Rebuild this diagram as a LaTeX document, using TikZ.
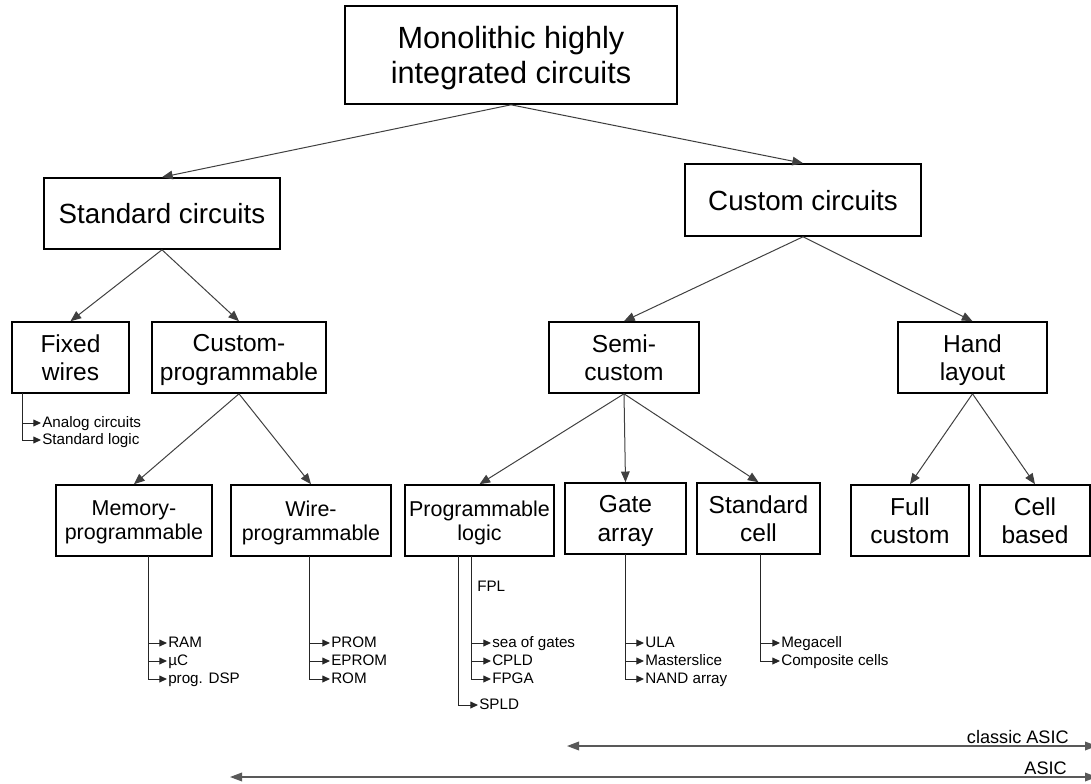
\documentclass[tikz,border=0pt]{standalone}
\usepackage{fontspec}
\setmainfont{Liberation Sans}
\usetikzlibrary{arrows.meta}

\begin{document}
\begin{tikzpicture}[x=0.75pt,y=-0.75pt,
  box/.style={draw=black, line width=1.2pt, align=center, inner sep=0pt, fill=white, text depth=0pt},
  sz/.style 2 args={minimum width=#1*0.75pt, minimum height=#2*0.75pt},
  fTop/.style={font=\fontsize{23}{26.5}\selectfont},
  fOne/.style={font=\fontsize{20.8}{24}\selectfont},
  fTwo/.style={font=\fontsize{18.4}{21.5}\selectfont},
  fThr/.style={font=\fontsize{16.1}{18}\selectfont},
  item/.style={anchor=west, inner sep=0.75pt, font=\fontsize{11.4}{13}\selectfont,
               text height=8.2pt, text depth=1.2pt},
  tree/.style={draw=black!75, line width=0.75pt, -{Triangle[length=8pt,width=6.5pt]}},
  sub/.style={draw=black!85, line width=0.75pt, -{Triangle[length=5.8pt,width=5.2pt]}},
  span/.style={draw=black!65, line width=1pt, {Triangle[length=9pt,width=6.5pt]}-{Triangle[length=9pt,width=6.5pt]}},
  lbl/.style={anchor=base east, inner sep=0pt, font=\fontsize{13.6}{16}\selectfont}
]
\useasboundingbox (0,0) rectangle (1091,784);

% ---- boxes ----
\node[box, sz={332}{98}, fTop] (mono) at (511,55) {Monolithic highly\\integrated circuits};
\node[box, sz={236}{71}, fOne] (std)  at (162,213.5) {Standard circuits};
\node[box, sz={236}{72}, fOne] (cust) at (803,200) {Custom circuits};

\node[box, sz={117}{71}, fTwo] (fw)   at (70.5,357.5) {Fixed\\wires};
\node[box, sz={174}{71}, fTwo] (cp)   at (239,357.5) {Custom-\\programmable};
\node[box, sz={150}{71}, fTwo] (semi) at (624,357.5) {Semi-\\custom};
\node[box, sz={149}{71}, fTwo] (hand) at (972.5,357.5) {Hand\\layout};

\node[box, sz={156}{71}, fThr] (mem)  at (134,520.5) {Memory-\\programmable};
\node[box, sz={160}{71}, fThr] (wire) at (311,520.5) {Wire-\\programmable};
\node[box, sz={149}{71}, fThr] (pl)   at (479.5,520.5) {Programmable\\logic};
\node[box, sz={121}{71}, fTwo] (ga)   at (625.5,518.5) {Gate\\array};
\node[box, sz={123}{71}, fTwo] (sc)   at (758.5,518.5) {Standard\\cell};
\node[box, sz={118}{71}, fTwo] (fc)   at (910,520.5) {Full\\custom};
\node[box, sz={110}{71}, fTwo] (cb)   at (1035,520.5) {Cell\\based};

% ---- hierarchy ----
\draw[tree] (mono.south) -- (std.north);
\draw[tree] (mono.south) -- (cust.north);
\draw[tree] (std.south) -- (fw.north);
\draw[tree] (std.south) -- (cp.north);
\draw[tree] (cust.south) -- (semi.north);
\draw[tree] (cust.south) -- (hand.north);
\draw[tree] (cp.south) -- (mem.north);
\draw[tree] (cp.south) -- (wire.north);
\draw[tree] (semi.south) -- (pl.north);
\draw[tree] (semi.south) -- (ga.north);
\draw[tree] (semi.south) -- (sc.north);
\draw[tree] (hand.south) -- (fc.north);
\draw[tree] (hand.south) -- (cb.north);

% ---- example lists ----
% fixed wires
\coordinate (fwS) at (22,393);
\node[item] (ac) at (41,423) {Analog circuits};
\node[item] (sl) at (41,440) {Standard logic};
\draw[sub] (fwS) |- (ac.west);
\draw[sub] (fwS) |- (sl.west);

% memory-programmable
\coordinate (memS) at (148,556);
\node[item] (ram) at (167,643) {RAM};
\node[item] (uc)  at (167,661) {µC};
\node[item] (dsp) at (167,679) {prog. DSP};
\foreach \n in {ram,uc,dsp} \draw[sub] (memS) |- (\n.west);

% wire-programmable
\coordinate (wireS) at (309,556);
\node[item] (prom)  at (330,643) {PROM};
\node[item] (eprom) at (330,661) {EPROM};
\node[item] (rom)   at (330,679) {ROM};
\foreach \n in {prom,eprom,rom} \draw[sub] (wireS) |- (\n.west);

% programmable logic
\coordinate (plA) at (458,556);
\coordinate (plB) at (471,556);
\node[item] (fpl)  at (476,587) {FPL};
\node[item] (sog)  at (491,643) {sea of gates};
\node[item] (cpld) at (491,661) {CPLD};
\node[item] (fpga) at (491,679) {FPGA};
\node[item] (spld) at (478,705) {SPLD};
\foreach \n in {sog,cpld,fpga} \draw[sub] (plB) |- (\n.west);
\draw[sub] (plA) |- (spld.west);

% gate array
\coordinate (gaS) at (625,554);
\node[item] (ula)  at (644,643) {ULA};
\node[item] (ms)   at (644,661) {Masterslice};
\node[item] (nand) at (644,679) {NAND array};
\foreach \n in {ula,ms,nand} \draw[sub] (gaS) |- (\n.west);

% standard cell
\coordinate (scS) at (760,554);
\node[item] (mega) at (780,643) {Megacell};
\node[item] (comp) at (780,661) {Composite cells};
\foreach \n in {mega,comp} \draw[sub] (scS) |- (\n.west);

% ---- ranges ----
\coordinate (caL) at (567,746);
\coordinate (caR) at (1097,746);
\draw[span] (caL) -- (caR);
\node[lbl] (caT) at (1069,743) {classic ASIC};

\coordinate (asL) at (230,777);
\coordinate (asR) at (1097,777);
\draw[span] (asL) -- (asR);
\node[lbl] (asT) at (1067,774) {ASIC};
\end{tikzpicture}
\end{document}
